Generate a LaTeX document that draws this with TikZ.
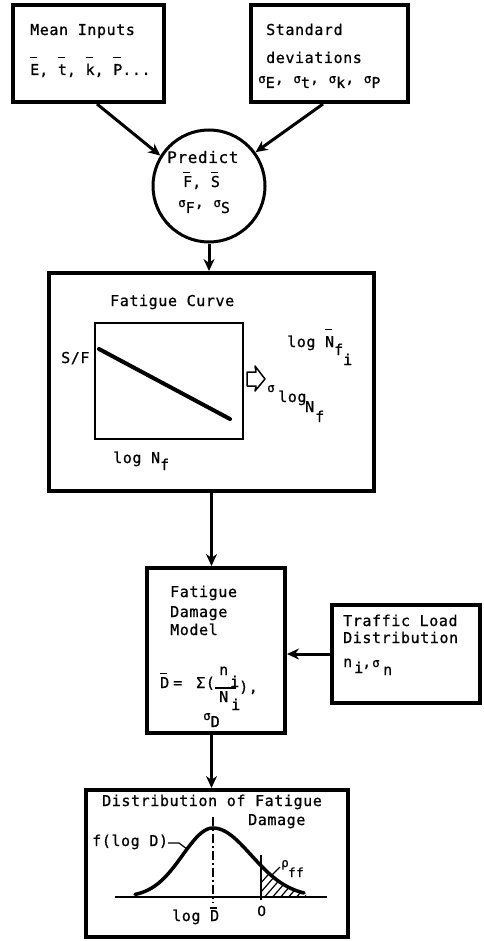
\documentclass[tikz,border=0pt]{standalone}
\usepackage{fontspec}
\setmainfont{DejaVu Sans Mono}[LetterSpace=4, FakeBold=0.8]
\newfontfamily\plainfont{DejaVu Sans}[FakeBold=0.8]
\usetikzlibrary{arrows.meta}
\newcommand\ovl[2][15pt]{\setbox0\hbox{#2}\rlap{\rule[#1]{\dimexpr\wd0-1.8pt\relax}{1.3pt}}\box0}
\newcommand\lowr[2][5pt]{\raisebox{-#1}{#2}}
\newcommand\sgm{{\fontsize{12.5}{12}\selectfont σ}}
\begin{document}
\begin{tikzpicture}[x=1pt,y=-1pt,
  box/.style={draw, line width=4pt, inner sep=0},
  t/.style={anchor=base west, inner sep=0, font=\fontsize{15}{17}\selectfont},
  ts/.style={anchor=base west, inner sep=0, font=\fontsize{12.5}{14}\selectfont},
  conn/.style={line width=3pt, -{Stealth[length=12pt,width=11pt]}}]
\useasboundingbox (0,0) rectangle (483,941);
% boxes
\node[box, minimum width=151pt, minimum height=97pt] (mean) at (88.5,53.5) {};
\node[box, minimum width=157pt, minimum height=97pt] (std) at (329.5,53.5) {};
\node[circle, draw, line width=3pt, minimum size=112pt, inner sep=0] (pred) at (209,186) {};
\node[box, minimum width=325pt, minimum height=218pt] (fat) at (211.5,382) {};
\node[box, minimum width=138pt, minimum height=165pt] (dm) at (216,650.5) {};
\node[box, minimum width=148pt, minimum height=98pt] (traf) at (406,654) {};
\node[box, minimum width=262pt, minimum height=147pt] (dist) at (217,863.5) {};
% connectors
\draw[conn] ([xshift=8.5pt]mean.south) -- (pred.148);
\draw[conn] ([xshift=-6.5pt]std.south) -- (pred.36);
\draw[conn] (pred.south) -- (pred.south |- fat.north);
\draw[conn] (fat.south) -- (fat.south |- dm.north);
\draw[conn] (traf.west) -- (traf.west -| dm.east);
\coordinate (dmo) at (dm.south -| fat.south);
\draw[conn] (dmo) -- (dmo |- dist.north);
% texts top
\node[t] (mi) at (30,35) {Mean Inputs};
\node[t] (mv) at (30,75) {\ovl[17pt]{E}, \ovl[17pt]{t}, \ovl[17pt]{k}, \ovl[17pt]{P}...};
\node[t] (sd1) at (266,35) {Standard};
\node[t] (sd2) at (266,63) {deviations};
\node[t] (sd3) at (258,83) {\sgm\lowr{E}, \sgm\lowr{t}, \sgm\lowr{k}, \sgm\lowr{P}};
% circle
\node[t, font=\fontsize{16}{18}\selectfont] (pr) at (167,163) {Predict};
\node[t] (fs) at (183,187) {\ovl[13.5pt]{F}, \ovl[13.5pt]{S}};
\node[t] (sfs) at (178,207) {\sgm\lowr[6pt]{F}, \sgm\lowr[6pt]{S}};
% fatigue curve box
\node[t] (fc) at (110,306) {Fatigue Curve};
\node[draw, line width=1.5pt, minimum width=148pt, minimum height=116pt, inner sep=0] (plot) at (169,381) {};
\draw[line width=4pt, line cap=round] (99,349) -- (230,419);
\node[t] (sf) at (61,363) {S/F};
\node[t] (lnf) at (113,463) {log N\lowr[7pt]{f}};
\node[t] (lnb) at (287,347) {log \ovl[17pt]{N}\lowr[8pt]{f\lowr[10pt]{i}}};
\draw[line width=1.5pt, line join=round] (247,372) -- (256,372) -- (255,366) -- (265,379) -- (255,391) -- (256,386) -- (247,386) -- cycle;
\node[t] (sl1) at (267,392) {\sgm};
\node[t] (sl2) at (278,402) {log};
\node[t] (sl3) at (305,412) {N};
\node[t] (sl4) at (315,422) {f};
% damage model
\node[t] (dm1) at (170,597) {Fatigue};
\node[t] (dm2) at (170,617) {Damage};
\node[t] (dm3) at (170,635) {Model};
\node[t] (dbar) at (160,688) {\ovl[14pt]{D}};
\node[t] (deq) at (173,688) {=};
\node[t] (dsig) at (196,688) {Σ(};
\node[t] (fn) at (219,675) {n};
\node[t] (fni) at (230,687) {i};
\draw[line width=1.2pt] (215,688) -- (236,688);
\node[t] (fN) at (219,702) {N};
\node[t] (fNi) at (231,710) {i};
\node[t] (fcl) at (239,692) {),};
\node[t] (sdd) at (203,720) {\sgm\lowr[7pt]{D}};
% traffic
\node[t] (tl1) at (343,626) {Traffic Load};
\node[t] (tl2) at (343,643) {Distribution};
\node[t] (tl3) at (343,667) {n};
\node[t] (tl4) at (354,673) {i};
\node[t] (tl5) at (362,667) {,};
\node[t] (tl6) at (372,667) {\sgm};
\node[t] (tl7) at (383,675) {n};
% distribution
\node[t] (db1) at (102,806) {Distribution of Fatigue};
\node[t] (db2) at (248,825) {Damage};
\node[t] (fl) at (92,846) {f(log D)};
\node[t] (ld) at (172,921) {log \ovl[12.5pt]{D}};
\node[t, font=\fontsize{14}{16}\plainfont] (zero) at (257,916) {0};
\node[ts] (rho) at (281,867) {ρ};
\node[ts] (ff) at (288,877) {ff};
\draw[line width=1.5pt] (115,897) -- (327,897);
\draw[line width=1.5pt, dash pattern=on 9pt off 3pt on 2pt off 3pt] (213,817) -- (213,903);
\draw[line width=1.5pt] (261,855) -- (261,900);
\begin{scope}
\clip (261,897) -- plot[domain=261:306, samples=30] (\x,{897-69*exp(-((\x-213)/54)*((\x-213)/54))}) -- (306,897) -- cycle;
\foreach \k in {246,254,...,318} \draw[line width=1.2pt] (\k,900) -- (\k+28,868);
\end{scope}
\draw[line width=3.5pt, line cap=round] plot[domain=135:213, samples=40] (\x,{897-69*exp(-((\x-213)/43)*((\x-213)/43))}) -- plot[domain=213:304, samples=40] (\x,{897-69*exp(-((\x-213)/54)*((\x-213)/54))});
\draw[line width=1.2pt] (168,843) -- (179,843) -- (187,849);
\draw[line width=1.2pt] (280,867) -- (271,876);
\end{tikzpicture}
\end{document}
